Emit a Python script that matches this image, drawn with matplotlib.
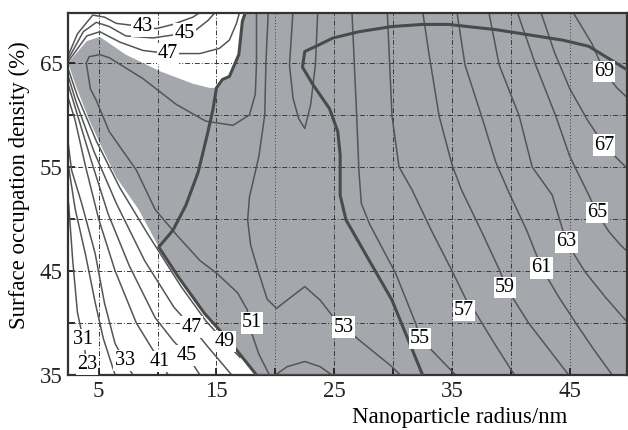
import numpy as np
import matplotlib.pyplot as plt

plt.rcParams['font.family'] = ['Liberation Serif', 'DejaVu Serif']

# ---- contour lines (x = radius / nm, y = occupation %) ----
# white lower-left region
w1_x = [2.45, 2.8, 3.2, 3.7, 4.0, 4.15]
w1_y = [51.5, 46, 41, 38.4, 36.0, 35]
w2_x = [2.45, 3.0, 3.9, 4.7, 5.4, 6.4]
w2_y = [55, 51, 46.5, 42, 38.5, 35]
w33_x = [2.45, 2.7, 3.56, 4.7, 5.5, 6.4, 7.2, 7.9]
w33_y = [57, 54.7, 51.5, 46.7, 41.9, 38, 36.4, 35]
w41_x = [2.45, 3.0, 3.9, 5.0, 6.4, 8.2, 9.5, 10.2, 10.9]
w41_y = [61.5, 59.5, 55, 50, 45, 40, 37.6, 36.4, 35]
w45_x = [2.45, 3.2, 4.4, 5.8, 7.6, 9.8, 11.4, 12.5, 13.6]
w45_y = [62.8, 60, 55.5, 50.5, 45.5, 40.5, 38.2, 36.9, 35]
w47_x = [2.45, 3.1, 4.6, 6.5, 8.9, 11.4, 12.9, 14.5, 16.3]
w47_y = [63.6, 61.2, 56.5, 51.5, 46, 41.5, 39.6, 37.4, 35]
w49_x = [2.45, 3.2, 4.8, 6.8, 9.2, 12.0, 14.1, 15.7, 17.0]
w49_y = [64.3, 61.8, 57.5, 53, 48.5, 43.5, 40.2, 38.2, 36.7]

# white upper-left region
t43_x = [2.45, 3.2, 4.5, 5.5, 6.5, 8.7, 9.9, 11.3, 13.0, 13.8]
t43_y = [65.8, 67.8, 69.6, 69.4, 68.8, 68.5, 68.3, 68.7, 69.4, 70]
t45_x = [2.45, 3.7, 4.8, 5.9, 7.3, 9.6, 12.3, 13.3, 14.3, 15.0]
t45_y = [65.45, 68.0, 68.9, 68.5, 67.6, 67.4, 67.85, 68.2, 69.1, 70]
t47_x = [2.45, 4.0, 5.1, 6.8, 8.75, 10.9, 13.6, 15.25, 16.1, 16.7, 17.0]
t47_y = [65.2, 67.6, 68.0, 67.0, 66.2, 65.9, 65.9, 66.4, 67.2, 68.8, 70]

# grey region
c51_x = [18.4, 18.4, 18.3, 17.8, 16.4, 14.1, 11.6, 8.75, 5.9, 5.1, 4.2, 3.95, 4.3,
         4.8, 5.9, 8.2, 9.8, 11.75, 13.6, 15.0, 16.8, 17.6, 17.9, 18.0, 18.6, 19.5]
c51_y = [70, 65, 62, 60, 59, 59.4, 61, 63.5, 65.5, 65.8, 65.6, 65.0, 62.5,
         61.4, 58.4, 54.7, 50.9, 48.3, 46, 44.8, 42.9, 41.3, 39.8, 39, 37, 35]
hump51_x = [20.0, 21.0, 22.5, 23.8, 24.8]
hump51_y = [35, 35.8, 36.3, 35.8, 35]
c53_x = [19.4, 19.2, 19.1, 18.6, 17.8, 17.65, 17.9, 18.6, 19.3, 20.1, 21.0, 22.5,
         23.8, 24.9, 25.8, 27.5, 29.9, 30.6]
c53_y = [70, 65, 60, 56, 52.1, 49.9, 47.5, 44.8, 42.3, 41.4, 42.2, 43.5,
         42.2, 40.6, 39.6, 38.0, 35.8, 35]
u53_x = [21.5, 21.2, 21.5, 22.0, 22.5, 23.0, 23.4, 23.6]
u53_y = [70, 64.8, 61.6, 59.6, 58.7, 61, 64.8, 70]
c55_x = [26.5, 26.7, 26.9, 27.1, 27.3, 28.0, 30.2, 31.9, 32.3, 33.6, 35.3]
c55_y = [70, 65, 60, 54.5, 51.5, 49.5, 44.8, 40, 38.5, 37, 35]
c57_x = [29.5, 29.7, 29.9, 30.5, 31.6, 33.2, 35.0, 36.3, 37.0, 38.5, 40.3]
c57_y = [70, 65, 59.9, 55, 52.8, 49, 45, 42, 41.0, 38.2, 35]
c59_x = [32.5, 33.05, 33.9, 35.0, 35.8, 37.5, 39.1, 39.6, 41.5, 43.2, 44.9]
c59_y = [70, 65.8, 59.9, 55.2, 52.8, 48.8, 44.9, 43.4, 40, 37.5, 35]
c61_x = [35.4, 36.1, 37.5, 38.7, 39.8, 41.3, 42.6, 44.0, 45.5, 47.0, 48.6]
c61_y = [70, 64.8, 59.9, 55.5, 52.6, 49, 45.3, 42.6, 40, 37.5, 35]
c63_x = [38.1, 39.0, 40.7, 41.8, 43.5, 44.7, 46.3, 48.0, 49.7, 50.2]
c63_y = [70, 64.8, 59.9, 55, 52.3, 47.8, 44.9, 42.5, 40.3, 39.8]
c65_x = [40.5, 42.1, 43.8, 45.0, 46.6, 47.3, 48.3, 49.3, 50.2]
c65_y = [70, 64.8, 59.9, 56, 52.3, 50.6, 48.8, 47.5, 46.5]
c67_x = [42.5, 43.7, 45.0, 46.5, 47.9, 49.2, 50.2]
c67_y = [70, 66, 62.5, 59.5, 57.1, 55.6, 54.5]
c69_x = [45.2, 46.9, 47.9, 49.0, 50.2]
c69_y = [70, 66.8, 64.2, 62.6, 61.3]

# thick boundary lines
thick1_x = [18.4, 16.0, 14.0, 11.75, 10.1, 11.3, 12.4, 13.45, 14.2, 14.7, 15.0,
            15.5, 16.1, 16.9, 17.2, 17.5]
thick1_y = [35, 38.4, 40.9, 44.45, 47.3, 48.9, 51.3, 54.5, 58, 60.5, 62.6,
            63.4, 63.7, 65.8, 69, 70]
thick2_x = [32.5, 29.9, 26.0, 25.5, 25.5, 25.3, 24.6, 23.2, 22.3, 22.5, 23.45, 24.9,
            27.1, 29.9, 32.5, 34.7, 38.7, 44.35, 46.6, 50.2]
thick2_y = [35, 42.2, 49.9, 52.3, 56.2, 58.4, 60.6, 62.9, 64.6, 66.1, 66.6, 67.4,
            68.0, 68.5, 68.7, 68.7, 68.2, 67.2, 66.6, 64.1]
bottom_thick_x = [18.4, 32.5]
bottom_thick_y = [35, 35]

# edges of the grey (shaded) area
shade_top_x = [2.4, 4.0, 5.1, 7.3, 10.2, 13.0, 14.4, 15.0]
shade_top_y = [65.0, 67.1, 67.5, 65.8, 64.2, 63.0, 62.6, 62.6]
shade_left_x = [10.1, 8.4, 6.5, 5.3, 4.2, 3.1, 2.4]
shade_left_y = [47.3, 50.9, 54.0, 56.8, 59.5, 62.7, 65.0]

# contour labels
lab_text = ['69', '67', '65', '63', '61', '59', '57', '55', '53', '51', '49', '47',
            '45', '41', '33', '31', '23', '43', '45', '47']
lab_x = [47.9, 47.9, 47.3, 44.7, 42.6, 39.5, 36.0, 32.3, 25.8, 18.0, 15.7, 12.9,
         12.5, 10.2, 7.2, 3.7, 4.0, 8.7, 12.3, 10.9]
lab_y = [64.2, 57.1, 50.6, 47.8, 45.3, 43.4, 41.2, 38.5, 39.6, 40.0, 38.2, 39.6,
         36.9, 36.3, 36.4, 38.4, 36.0, 68.5, 67.85, 65.9]

xlo, xhi = 2.4, 49.85
ylo, yhi = 35, 69.8

fig = plt.figure(figsize=(6.28, 4.30), dpi=100)
ax = fig.add_axes([0.1083, 0.1279, 0.8901, 0.8419])

# shaded region
i_join = thick1_x.index(15.0)
poly_x = (shade_top_x + thick1_x[i_join + 1:] + [xhi + 1, xhi + 1] +
          thick1_x[:thick1_x.index(10.1)] + shade_left_x)
poly_y = (shade_top_y + thick1_y[i_join + 1:] + [yhi + 1, ylo] +
          thick1_y[:thick1_y.index(47.3)] + shade_left_y)
ax.fill(poly_x, poly_y, color='#a4a7ac', lw=0, zorder=0)

# grid
for gx in [5, 10, 15, 20, 25, 30, 35, 40, 45]:
    ls = (0, (1, 2.2)) if gx in (20, 45) else (0, (5, 2, 1, 2))
    ax.axvline(gx, color='#3a3a3a', lw=0.7, ls=ls, zorder=1)
for gy in [40, 45, 50, 55, 60, 65]:
    ax.axhline(gy, color='#3a3a3a', lw=0.7, ls=(0, (5, 2, 1, 2)), zorder=1)

thin = [(w1_x, w1_y), (w2_x, w2_y), (w33_x, w33_y), (w41_x, w41_y), (w45_x, w45_y),
        (w47_x, w47_y), (w49_x, w49_y), (t43_x, t43_y), (t45_x, t45_y), (t47_x, t47_y),
        (c51_x, c51_y), (hump51_x, hump51_y), (c53_x, c53_y), (u53_x, u53_y),
        (c55_x, c55_y), (c57_x, c57_y), (c59_x, c59_y), (c61_x, c61_y),
        (c63_x, c63_y), (c65_x, c65_y), (c67_x, c67_y), (c69_x, c69_y)]
for lx, ly in thin:
    ax.plot(lx, ly, color='#555555', lw=1.1, zorder=2)

for lx, ly in [(thick1_x, thick1_y), (thick2_x, thick2_y), (bottom_thick_x, bottom_thick_y)]:
    ax.plot(lx, ly, color='#4a4a4a', lw=2.2, zorder=3, solid_capstyle='butt')

for s, tx, ty in zip(lab_text, lab_x, lab_y):
    ax.text(tx, ty, s, ha='center', va='center', fontsize=14.5, zorder=4,
            bbox=dict(boxstyle='square,pad=0.06', fc='white', ec='none'))

ax.set_xlim(xlo, xhi)
ax.set_ylim(ylo, yhi)
ax.set_xticks([5, 15, 25, 35, 45])
ax.set_xticks([10, 20, 30, 40], minor=True)
ax.set_yticks([35, 45, 55, 65])
ax.set_yticks([40, 50, 60], minor=True)
ax.tick_params(which='both', direction='in', length=5, width=1.3, colors='#222',
               labelsize=16.5, top=False, right=False)
ax.tick_params(axis='x', pad=4)
ax.tick_params(axis='y', pad=4)
for sp in ax.spines.values():
    sp.set_linewidth(1.6)
    sp.set_color('#333')

ax.set_xlabel('Nanoparticle radius/nm', fontsize=16.5)
ax.xaxis.set_label_coords(0.70, -0.088)
ax.xaxis.label.set_va('top')
ax.set_ylabel('Surface occupation density (%)', fontsize=16.5)
ax.yaxis.set_label_coords(-0.068, 0.525)

fig.savefig('out.png', dpi=100)
